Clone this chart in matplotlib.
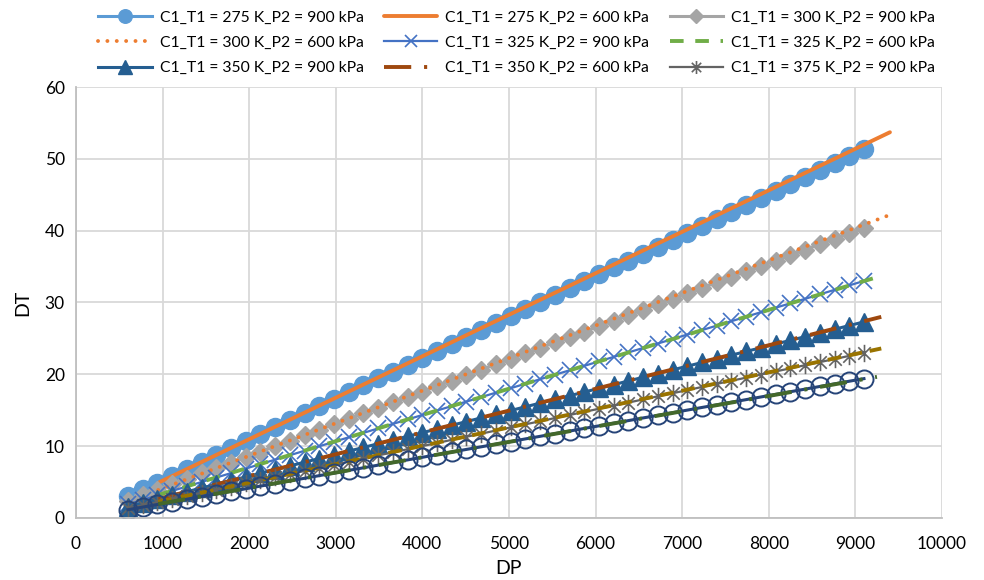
import matplotlib
matplotlib.use("Agg")
import matplotlib.pyplot as plt
from matplotlib.path import Path

plt.rcParams['font.family'] = ['Lato', 'DejaVu Sans']

# DP values for the 900 kPa series (markers)
dp_900 = [600, 770, 940, 1110, 1280, 1450, 1620, 1790, 1960, 2130, 2300, 2470, 2640,
          2810, 2980, 3150, 3320, 3490, 3660, 3830, 4000, 4170, 4340, 4510, 4680, 4850,
          5020, 5190, 5360, 5530, 5700, 5870, 6040, 6210, 6380, 6550, 6720, 6890, 7060,
          7230, 7400, 7570, 7740, 7910, 8080, 8250, 8420, 8590, 8760, 8930, 9100]

dt_275_900 = [3.0, 3.97, 4.93, 5.90, 6.86, 7.83, 8.80, 9.76, 10.73, 11.69, 12.66, 13.63, 14.59,
              15.56, 16.52, 17.49, 18.46, 19.42, 20.39, 21.35, 22.32, 23.29, 24.25, 25.22, 26.18,
              27.15, 28.12, 29.08, 30.05, 31.01, 31.98, 32.95, 33.91, 34.88, 35.84, 36.81, 37.78,
              38.74, 39.71, 40.67, 41.64, 42.61, 43.57, 44.54, 45.50, 46.47, 47.44, 48.40, 49.37,
              50.33, 51.30]
dt_300_900 = [2.4, 3.16, 3.92, 4.68, 5.44, 6.2, 6.96, 7.72, 8.48, 9.24, 10.0, 10.76, 11.52,
              12.28, 13.04, 13.8, 14.56, 15.32, 16.08, 16.84, 17.6, 18.36, 19.12, 19.88, 20.64,
              21.4, 22.16, 22.92, 23.68, 24.44, 25.2, 25.96, 26.72, 27.48, 28.24, 29.0, 29.76,
              30.52, 31.28, 32.04, 32.8, 33.56, 34.32, 35.08, 35.84, 36.6, 37.36, 38.12, 38.88,
              39.64, 40.4]
dt_325_900 = [1.9, 2.52, 3.14, 3.77, 4.39, 5.01, 5.63, 6.25, 6.88, 7.50, 8.12, 8.74, 9.36,
              9.99, 10.61, 11.23, 11.85, 12.47, 13.10, 13.72, 14.34, 14.96, 15.58, 16.21, 16.83,
              17.45, 18.07, 18.69, 19.32, 19.94, 20.56, 21.18, 21.80, 22.43, 23.05, 23.67, 24.29,
              24.91, 25.54, 26.16, 26.78, 27.40, 28.02, 28.65, 29.27, 29.89, 30.51, 31.13, 31.76,
              32.38, 33.0]
dt_350_900 = [1.6, 2.11, 2.63, 3.14, 3.66, 4.17, 4.68, 5.20, 5.71, 6.23, 6.74, 7.25, 7.77,
              8.28, 8.80, 9.31, 9.82, 10.34, 10.85, 11.37, 11.88, 12.39, 12.91, 13.42, 13.94,
              14.45, 14.96, 15.48, 15.99, 16.51, 17.02, 17.53, 18.05, 18.56, 19.08, 19.59, 20.10,
              20.62, 21.13, 21.65, 22.16, 22.67, 23.19, 23.70, 24.22, 24.73, 25.24, 25.76, 26.27,
              26.79, 27.30]
dt_375_900 = [1.35, 1.78, 2.22, 2.65, 3.08, 3.52, 3.95, 4.38, 4.81, 5.25, 5.68, 6.11, 6.55,
              6.98, 7.41, 7.85, 8.28, 8.71, 9.14, 9.58, 10.01, 10.44, 10.88, 11.31, 11.74,
              12.18, 12.61, 13.04, 13.47, 13.91, 14.34, 14.77, 15.21, 15.64, 16.07, 16.51, 16.94,
              17.37, 17.80, 18.24, 18.67, 19.10, 19.54, 19.97, 20.40, 20.84, 21.27, 21.70, 22.13,
              22.57, 23.0]
dt_400_900 = [1.15, 1.52, 1.88, 2.25, 2.61, 2.98, 3.34, 3.71, 4.07, 4.44, 4.80, 5.17, 5.53,
              5.90, 6.26, 6.63, 6.99, 7.36, 7.72, 8.09, 8.45, 8.82, 9.18, 9.55, 9.91,
              10.28, 10.64, 11.01, 11.37, 11.74, 12.10, 12.47, 12.83, 13.20, 13.56, 13.93, 14.29,
              14.66, 15.02, 15.39, 15.75, 16.12, 16.48, 16.85, 17.21, 17.58, 17.94, 18.31, 18.67,
              19.04, 19.40]

# DP values for the 600 kPa series (lines)
dp_600_a = [950, 1800, 2700, 3600, 4500, 5400, 6300, 7200, 8100, 9000, 9400]
dp_600_b = [950, 1800, 2700, 3600, 4500, 5400, 6300, 7200, 8100, 9000, 9300]
dp_600_c = [950, 1800, 2700, 3600, 4500, 5400, 6300, 7200, 8100, 9000, 9250]
dt_275_600 = [4.9, 9.81, 15.01, 20.20, 25.40, 30.60, 35.80, 40.99, 46.19, 51.39, 53.70]
dt_300_600 = [3.9, 7.75, 11.83, 15.91, 19.99, 24.07, 28.15, 32.23, 36.31, 40.39, 42.2]
dt_325_600 = [3.2, 6.31, 9.60, 12.88, 16.17, 19.46, 22.75, 26.04, 29.33, 32.62, 33.7]
dt_350_600 = [2.65, 5.23, 7.96, 10.70, 13.43, 16.16, 18.89, 21.62, 24.35, 27.09, 28.0]
dt_375_600 = [2.25, 4.42, 6.72, 9.03, 11.33, 13.63, 15.93, 18.23, 20.53, 22.83, 23.6]
dt_400_600 = [1.95, 3.76, 5.68, 7.60, 9.52, 11.44, 13.36, 15.28, 17.20, 19.12, 19.65]

labels = ["C1_T1 = 275 K_P2 = 900 kPa", "C1_T1 = 275 K_P2 = 600 kPa",
          "C1_T1 = 300 K_P2 = 900 kPa", "C1_T1 = 300 K_P2 = 600 kPa",
          "C1_T1 = 325 K_P2 = 900 kPa", "C1_T1 = 325 K_P2 = 600 kPa",
          "C1_T1 = 350 K_P2 = 900 kPa", "C1_T1 = 350 K_P2 = 600 kPa",
          "C1_T1 = 375 K_P2 = 900 kPa", "C1_T1 = 375 K_P2 = 600 kPa",
          "C1_T1 = 400 K_P2 = 900 kPa", "C1_T1 = 400 K_P2 = 600 kPa"]

xticks = [0, 1000, 2000, 3000, 4000, 5000, 6000, 7000, 8000, 9000, 10000]
yticks = [0, 10, 20, 30, 40, 50, 60]

asterisk = Path([(0, -1), (0, 1), (-0.72, -0.72), (0.72, 0.72), (-0.72, 0.72), (0.72, -0.72)],
                [Path.MOVETO, Path.LINETO, Path.MOVETO, Path.LINETO, Path.MOVETO, Path.LINETO])

fig = plt.figure(figsize=(9.84, 5.80), dpi=100)
ax = fig.add_axes([0.0772, 0.1069, 0.880, 0.7431])

lw_m = 2.2
lw_l = 2.8
h = []
h += ax.plot(dp_900, dt_275_900, color='#5B9BD5', lw=lw_m, marker='o', ms=13,
             mec='#5B9BD5', mfc='#5B9BD5', label=labels[0])
h += ax.plot(dp_600_a, dt_275_600, color='#ED7D31', lw=lw_l, solid_capstyle='round',
             label=labels[1])
h += ax.plot(dp_900, dt_300_900, color='#A5A5A5', lw=lw_m, marker='D', ms=9.5,
             mec='#A5A5A5', mfc='#A5A5A5', label=labels[2])
h += ax.plot(dp_600_a, dt_300_600, color='#ED7D31', lw=lw_l, ls=(0, (0.01, 2.4)),
             dash_capstyle='round', label=labels[3])
h += ax.plot(dp_900, dt_325_900, color='#4472C4', lw=1.6, marker='x', ms=12, mew=1.2,
             label=labels[4])
h += ax.plot(dp_600_b, dt_325_600, color='#70AD47', lw=lw_l, ls=(0, (3.5, 3.0)),
             label=labels[5])
h += ax.plot(dp_900, dt_350_900, color='#255E91', lw=lw_m, marker='^', ms=13,
             mec='#255E91', mfc='#255E91', label=labels[6])
h += ax.plot(dp_600_b, dt_350_600, color='#9E480E', lw=lw_l, ls=(0, (7.0, 3.3, 0.8, 3.3)),
             label=labels[7])
h += ax.plot(dp_900, dt_375_900, color='#636363', lw=1.6, marker=asterisk, ms=12.5, mew=1.2,
             label=labels[8])
h += ax.plot(dp_600_b, dt_375_600, color='#997300', lw=lw_l, ls=(0, (3.5, 2.0)),
             label=labels[9])
h += ax.plot(dp_900, dt_400_900, color='#264478', lw=lw_m, marker='o', ms=13, mew=1.4,
             mec='#264478', mfc='none', label=labels[10])
h += ax.plot(dp_600_c, dt_400_600, color='#43682B', lw=lw_l, ls=(0, (7.0, 3.3, 0.8, 3.3)),
             label=labels[11])

ax.set_xlim(0, 10000)
ax.set_ylim(0, 60)
ax.set_xticks(xticks)
ax.set_yticks(yticks)
ax.set_xticklabels([str(v) for v in xticks])
ax.set_yticklabels([str(v) for v in yticks])
ax.tick_params(axis='both', length=0, labelsize=12.5, colors='#000000')
ax.tick_params(axis='x', pad=13)
ax.tick_params(axis='y', pad=8)
ax.grid(True, color='#D9D9D9', lw=1.3)
ax.set_axisbelow(True)
for s in ['top', 'right']:
    ax.spines[s].set_visible(False)
for s in ['left', 'bottom']:
    ax.spines[s].set_color('#BFBFBF')
    ax.spines[s].set_linewidth(1.3)

ax.set_xlabel('DP', fontsize=14, labelpad=6)
ax.set_ylabel('DT', fontsize=14, labelpad=10)

order = [0, 3, 6, 1, 4, 7, 2, 5, 8]
fig.legend([h[i] for i in order], [labels[i] for i in order], loc='upper center',
           bbox_to_anchor=(0.525, 1.006), ncol=3, frameon=False, fontsize=11.3,
           handlelength=3.4, columnspacing=1.3, labelspacing=0.72, handletextpad=0.5,
           markerscale=0.75)

fig.savefig('out.png', dpi=100)
